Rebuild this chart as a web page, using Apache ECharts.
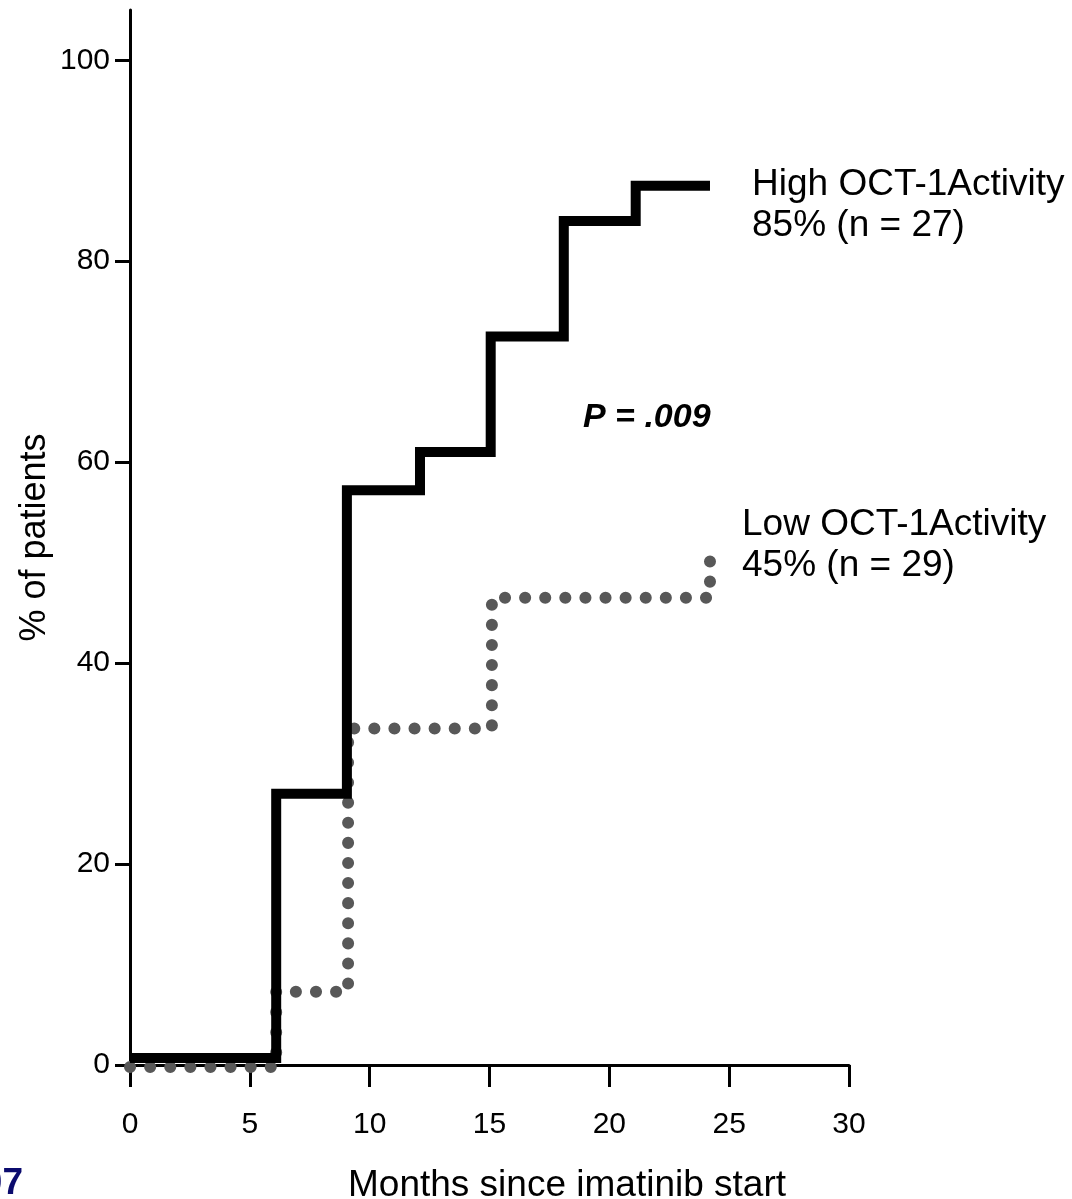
<!DOCTYPE html>
<html>
<head>
<meta charset="utf-8">
<title>OCT-1 activity</title>
<script src="https://cdn.jsdelivr.net/npm/echarts@6/dist/echarts.min.js"></script>
<style>
  html, body { margin: 0; padding: 0; background: #fff; }
  #chart { width: 1072px; height: 1199px; }
</style>
</head>
<body>
<div id="chart"></div>
<script>
// data (months, % of patients)
const highMonths = [0, 6.1, 9.05, 12.1, 15.05, 18.1, 21.1, 24.2];
const highPct    = [0.7, 27, 57.2, 61, 72.5, 84, 87.5, 87.5];
const lowMonths  = [0, 6.1, 9.1, 15.1, 24.2, 24.2];
const lowPct     = [-0.2, 7.3, 33.5, 46.5, 46.5, 50.4];
const yTicks = [0, 20, 40, 60, 80, 100];

const font = '"Liberation Sans", Arial, sans-serif';

let chart = echarts.init(document.getElementById('chart'));

// text helper for the annotations
function label(txt, x, y, css, align, color) {
  return {
    type: 'text',
    x: x, y: y,
    style: {
      text: txt,
      font: css + ' ' + font,
      fill: color || '#000',
      align: align || 'left', verticalAlign: 'middle',
      textAlign: align || 'left', textVerticalAlign: 'middle'
    }
  };
}

let option = {
  animation: false,
  grid: { left: 130, right: 223, top: 10, bottom: 134, containLabel: false, outerBoundsMode: 'none' },
  xAxis: {
    type: 'value',
    min: 0, max: 30, interval: 5,
    axisLine: { lineStyle: { color: '#000', width: 3 } },
    axisTick: { length: 22, lineStyle: { color: '#000', width: 3 } },
    axisLabel: { margin: 45, color: '#000', fontSize: 30, fontFamily: font },
    splitLine: { show: false }
  },
  yAxis: {
    type: 'value',
    min: 0, max: 105,
    name: '% of patients',
    nameLocation: 'middle',
    nameGap: 77,
    nameMoveOverlap: false,
    nameTextStyle: { color: '#000', fontSize: 36, fontFamily: font },
    axisLine: { show: true, lineStyle: { color: '#000', width: 3 } },
    axisTick: { show: true, length: 15, customValues: yTicks, lineStyle: { color: '#000', width: 3 } },
    axisLabel: { margin: 20, color: '#000', fontSize: 30, fontFamily: font, customValues: yTicks },
    splitLine: { show: false }
  },
  series: [
    {
      name: 'Low OCT-1 Activity',
      type: 'line',
      step: 'end',
      clip: false,
      symbol: 'none',
      data: lowMonths.map((m, i) => [m, lowPct[i]]),
      lineStyle: { color: '#585858', width: 12, type: [0.1, 20], cap: 'round' }
    },
    {
      name: 'High OCT-1 Activity',
      type: 'line',
      step: 'end',
      clip: false,
      symbol: 'none',
      data: highMonths.map((m, i) => [m, highPct[i]]),
      lineStyle: { color: '#000', width: 10, join: 'miter' }
    }
  ],
  graphic: [
    label('High OCT-1Activity', 752, 185, '37px'),
    label('85% (n = 27)', 752, 226, '37px'),
    label('Low OCT-1Activity', 742, 525, '37px'),
    label('45% (n = 29)', 742, 566, '37px'),
    label('P = .009', 583, 418, 'italic bold 34px'),
    label('Months since imatinib start', 567, 1186, '37px', 'center'),
    label('07', 23, 1184, 'bold 37px', 'right', '#0b0b6e')
  ]
};

chart.setOption(option);
</script>
</body>
</html>
